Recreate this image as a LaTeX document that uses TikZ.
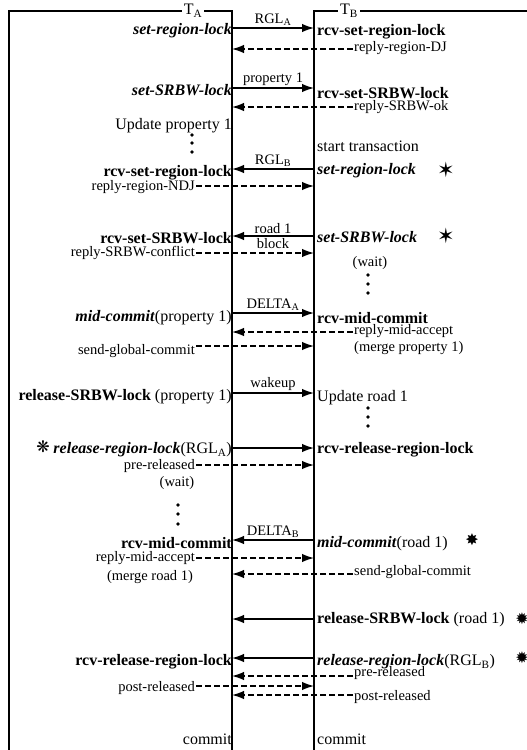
\documentclass[tikz,border=0pt]{standalone}
\usepackage{fontspec}
\setmainfont{Liberation Serif}
\newfontfamily\symfont{DejaVu Sans}
\usetikzlibrary{arrows.meta}

\begin{document}
\begin{tikzpicture}[x=1pt,y=-1pt,
  life/.style={line width=1.4pt},
  op/.style={font=\fontsize{16}{18}\selectfont\bfseries,inner sep=1pt},
  opi/.style={font=\fontsize{16}{18}\selectfont\bfseries\itshape,inner sep=1pt},
  tx/.style={font=\fontsize{16}{18}\selectfont,inner sep=1pt},
  sm/.style={font=\fontsize{14.5}{16}\selectfont,inner sep=1pt},
  lb/.style={font=\fontsize{14.5}{16}\selectfont,inner sep=1.5pt},
  mk/.style={font=\symfont\fontsize{16}{16}\selectfont,inner sep=0pt},
  mkb/.style={font=\symfont\fontsize{21}{21}\selectfont,inner sep=0pt},
  ar/.style={-{Latex[length=12pt,width=8.5pt]},line width=1.4pt},
  dar/.style={ar,dash pattern=on 6pt off 3pt},
  dot/.style={circle,fill,inner sep=0pt,minimum size=3.6pt}
]
\useasboundingbox (0,0) rectangle (527,750);

\draw[life] (9,750) -- (9,11) -- (232,11) -- (232,750);
\draw[life] (314,750) -- (314,11) -- (527,11);
\node[tx,fill=white,inner xsep=2pt] (tA) at (193,11) {T\textsubscript{A}};
\node[tx,fill=white,inner xsep=2pt] (tB) at (349,11) {T\textsubscript{B}};

\foreach \n/\y in {1/28,2/49,3/88,4/107,5/169,6/186,7/236,8/253,9/313,10/332,
                   11/346,12/393,13/448,14/465,15/540,16/558,17/574,18/619,
                   19/658,20/676,21/686,22/695}
  {\coordinate (L\n) at (232,\y); \coordinate (R\n) at (314,\y);}

\node[opi,anchor=east] (srlA) at (233,31) {set-region-lock};
\node[op,anchor=west] (rsrlB) at (316,32) {rcv-set-region-lock};
\node[sm,anchor=west] (rdj) at (353,48) {reply-region-DJ};
\node[opi,anchor=east] (sswA) at (233,90) {set-SRBW-lock};
\node[op,anchor=west] (rsswB) at (316,93) {rcv-set-SRBW-lock};
\node[sm,anchor=west] (rok) at (353,107) {reply-SRBW-ok};
\node[tx,anchor=east] (upA) at (233,126) {Update property 1};
\node[dot] (d1) at (192,135) {};
\node[dot] (d2) at (192,143) {};
\node[dot] (d3) at (192,152) {};
\node[tx,anchor=west] (stB) at (316,146) {start transaction};
\node[opi,anchor=west] (srlB) at (316,171) {set-region-lock};
\node[mkb] (k1) at (446,170) {✶};
\node[op,anchor=east] (rsrlA) at (233,173) {rcv-set-region-lock};
\node[sm,anchor=east] (rndj) at (196,187) {reply-region-NDJ};
\node[opi,anchor=west] (sswB) at (316,237) {set-SRBW-lock};
\node[mkb] (k2) at (446,236) {✶};
\node[op,anchor=east] (rsswA) at (233,238) {rcv-set-SRBW-lock};
\node[sm,anchor=east] (rcf) at (196,253) {reply-SRBW-conflict};
\node[sm] (wB) at (370,263) {(wait)};
\node[dot] (d4) at (368,275) {};
\node[dot] (d5) at (368,284) {};
\node[dot] (d6) at (368,293) {};
\node[tx,anchor=east] (mcA) at (233,318) {\textbf{\textit{mid-commit}}(property 1)};
\node[op,anchor=west] (rmcB) at (316,318) {rcv-mid-commit};
\node[sm,anchor=west] (rmaB) at (353,331) {reply-mid-accept};
\node[sm,anchor=east] (sgA) at (196,351) {send-global-commit};
\node[sm,anchor=west] (mpB) at (353,348) {(merge property 1)};
\node[tx,anchor=east] (rswA) at (233,397) {\textbf{release-SRBW-lock} (property 1)};
\node[tx,anchor=west] (urB) at (316,398) {Update road 1};
\node[dot] (d7) at (368,408) {};
\node[dot] (d8) at (368,417) {};
\node[dot] (d9) at (368,426) {};
\node[tx,anchor=east] (rrlA) at (233,450) {\textbf{\textit{release-region-lock}}(RGL\textsubscript{A})};
\node[mk] (k3) at (43,447) {❋};
\node[op,anchor=west] (rrrlB) at (316,450) {rcv-release-region-lock};
\node[sm,anchor=east] (prA) at (196,466) {pre-released};
\node[sm] (wA) at (177,483) {(wait)};
\node[dot] (d10) at (178,505) {};
\node[dot] (d11) at (178,514) {};
\node[dot] (d12) at (178,524) {};
\node[op,anchor=east] (rmcA) at (233,543) {rcv-mid-commit};
\node[tx,anchor=west] (mcB) at (316,544) {\textbf{\textit{mid-commit}}(road 1)};
\node[mk] (k4) at (472,540) {✸};
\node[sm,anchor=east] (rmaA) at (196,558) {reply-mid-accept};
\node[sm] (mrA) at (150,577) {(merge road 1)};
\node[sm,anchor=west] (sgB) at (353,572) {send-global-commit};
\node[tx,anchor=west] (rswB) at (316,620) {\textbf{release-SRBW-lock} (road 1)};
\node[mk] (k5) at (522,619) {✹};
\node[op,anchor=east] (rrrlA) at (233,662) {rcv-release-region-lock};
\node[tx,anchor=west] (rrlB) at (316,662) {\textbf{\textit{release-region-lock}}(RGL\textsubscript{B})};
\node[mk] (k6) at (522,658) {✹};
\node[sm,anchor=west] (prB) at (353,673) {pre-released};
\node[sm,anchor=east] (poA) at (196,688) {post-released};
\node[sm,anchor=west] (poB) at (353,697) {post-released};
\node[tx,anchor=east] (cA) at (233,739) {commit};
\node[tx,anchor=west] (cB) at (316,739) {commit};

\draw[ar] (L1) -- node[lb,above]{RGL\textsubscript{A}} (R1);
\draw[dar] (rdj.west |- R2) -- (L2);
\draw[ar] (L3) -- node[lb,above]{property 1} (R3);
\draw[dar] (rok.west |- R4) -- (L4);
\draw[ar] (R5) -- node[lb,above]{RGL\textsubscript{B}} (L5);
\draw[dar] (rndj.east |- L6) -- (R6);
\draw[ar] (R7) -- node[lb,above]{road 1} node[lb,below]{block} (L7);
\draw[dar] (rcf.east |- L8) -- (R8);
\draw[ar] (L9) -- node[lb,above]{DELTA\textsubscript{A}} (R9);
\draw[dar] (rmaB.west |- R10) -- (L10);
\draw[dar] (sgA.east |- L11) -- (R11);
\draw[ar] (L12) -- node[lb,above]{wakeup} (R12);
\draw[ar] (L13) -- (R13);
\draw[dar] (prA.east |- L14) -- (R14);
\draw[ar] (R15) -- node[lb,above]{DELTA\textsubscript{B}} (L15);
\draw[dar] (rmaA.east |- L16) -- (R16);
\draw[dar] (sgB.west |- R17) -- (L17);
\draw[ar] (R18) -- (L18);
\draw[ar] (R19) -- (L19);
\draw[dar] (prB.west |- R20) -- (L20);
\draw[dar] (poA.east |- L21) -- (R21);
\draw[dar] (poB.west |- R22) -- (L22);
\end{tikzpicture}
\end{document}
